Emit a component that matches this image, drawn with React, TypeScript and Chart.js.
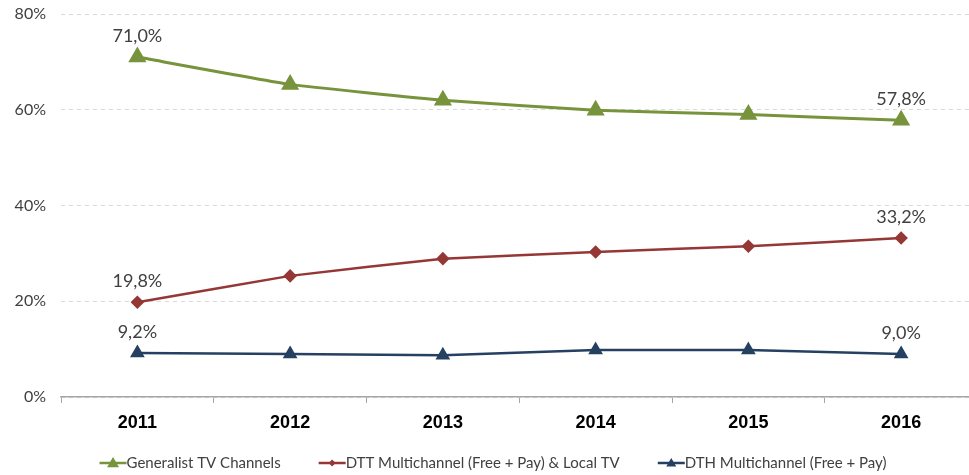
import { useEffect, useRef } from "react";
import { Chart, registerables } from "chart.js";
Chart.register(...registerables);

const years = ["2011", "2012", "2013", "2014", "2015", "2016"];
const generalist = [71.0, 65.3, 62.0, 59.9, 59.0, 57.8];
const dtt = [19.8, 25.3, 28.9, 30.3, 31.5, 33.2];
const dth = [9.2, 9.0, 8.7, 9.8, 9.8, 9.0];
const seriesNames = [
  "Generalist TV Channels",
  "DTT Multichannel (Free + Pay) & Local TV",
  "DTH Multichannel (Free + Pay)",
];
const yMin = 0;
const yMax = 80;
const yStep = 20;

const GREEN = "#77933C";
const RED = "#953735";
const BLUE = "#254061";
const TEXT = "#404040";
const FONT = "Lato, 'Noto Sans', sans-serif";

const fmt = (v: number) => v.toFixed(1).replace(".", ",") + "%";

const endLabels = {
  id: "endLabels",
  afterDatasetsDraw(chart: any) {
    const ctx = chart.ctx;
    ctx.save();
    ctx.font = `18px ${FONT}`;
    ctx.fillStyle = TEXT;
    ctx.textAlign = "center";
    ctx.textBaseline = "middle";
    chart.data.datasets.forEach((ds: any, i: number) => {
      const meta = chart.getDatasetMeta(i);
      const last = ds.data.length - 1;
      [0, last].forEach((idx) => {
        const pt = meta.data[idx];
        ctx.fillText(fmt(ds.data[idx]), pt.x, pt.y - 21);
      });
    });
    ctx.restore();
  },
};

const bottomLegend = {
  id: "bottomLegend",
  afterDraw(chart: any) {
    const ctx = chart.ctx;
    ctx.save();
    ctx.font = `15px ${FONT}`;
    ctx.textBaseline = "middle";
    ctx.textAlign = "left";
    const lineLen = 27;
    const gap = 38;
    const items = chart.data.datasets.map((ds: any) => ({
      ds,
      w: ctx.measureText(ds.label).width,
    }));
    const total =
      items.reduce((s: number, it: any) => s + lineLen + it.w, 0) + gap * (items.length - 1);
    let x = 490 - total / 2 + 3;
    const y = 463;
    items.forEach((it: any) => {
      const ds = it.ds;
      ctx.strokeStyle = ds.borderColor;
      ctx.lineWidth = 2.5;
      ctx.beginPath();
      ctx.moveTo(x, y);
      ctx.lineTo(x + lineLen, y);
      ctx.stroke();
      ctx.fillStyle = ds.borderColor;
      const cx = x + lineLen / 2;
      const r = ds.legendRadius;
      ctx.beginPath();
      if (ds.pointStyle === "triangle") {
        ctx.moveTo(cx, y - r);
        ctx.lineTo(cx + r, y + r * 0.7);
        ctx.lineTo(cx - r, y + r * 0.7);
      } else {
        ctx.moveTo(cx, y - r);
        ctx.lineTo(cx + r, y);
        ctx.lineTo(cx, y + r);
        ctx.lineTo(cx - r, y);
      }
      ctx.closePath();
      ctx.fill();
      ctx.fillStyle = TEXT;
      ctx.fillText(ds.label, x + lineLen, y);
      x += lineLen + it.w + gap;
    });
    ctx.restore();
  },
};

export default function App() {
  const ref = useRef<HTMLCanvasElement>(null);
  useEffect(() => {
    if (!ref.current) return;
    const chart = new Chart(ref.current, {
      type: "line",
      data: {
        labels: years,
        datasets: [
          {
            label: seriesNames[0],
            data: generalist,
            borderColor: GREEN,
            backgroundColor: GREEN,
            borderWidth: 3,
            pointStyle: "triangle",
            pointRadius: 7.5,
            pointHoverRadius: 7.5,
            tension: 0.12,
            legendRadius: 6,
          } as any,
          {
            label: seriesNames[1],
            data: dtt,
            borderColor: RED,
            backgroundColor: RED,
            borderWidth: 2.5,
            pointStyle: "rectRot",
            pointRadius: 5,
            pointHoverRadius: 5,
            tension: 0.05,
            legendRadius: 3.5,
          } as any,
          {
            label: seriesNames[2],
            data: dth,
            borderColor: BLUE,
            backgroundColor: BLUE,
            borderWidth: 2.5,
            pointStyle: "triangle",
            pointRadius: 6,
            pointHoverRadius: 6,
            tension: 0,
            legendRadius: 5,
          } as any,
        ],
      },
      options: {
        animation: false,
        responsive: false,
        layout: { padding: { top: 14, right: 0, bottom: 0, left: 0 } },
        plugins: {
          legend: { display: false },
          tooltip: { enabled: false },
        },
        scales: {
          x: {
            offset: true,
            afterFit(scale: any) {
              scale.height = 78;
              scale.paddingLeft = 0;
              scale.paddingRight = 0;
            },
            grid: {
              display: true,
              offset: true,
              drawOnChartArea: false,
              drawTicks: true,
              tickLength: 6,
              color: "#A6A6A6",
              lineWidth: 1,
            },
            border: { display: true, color: "#A6A6A6", width: 1.5 },
            ticks: {
              color: "#000000",
              font: { family: "'Liberation Sans', Arial, sans-serif", size: 18, weight: "bold" },
              padding: 9,
              maxRotation: 0,
            },
          },
          y: {
            min: yMin,
            max: yMax,
            afterFit(scale: any) {
              scale.width = 61;
              scale.paddingTop = 0;
              scale.paddingBottom = 0;
            },
            grid: {
              color: "#D9D9D9",
              drawTicks: false,
              lineWidth: 1,
            },
            border: { display: false, dash: [4, 4] },
            ticks: {
              stepSize: yStep,
              color: TEXT,
              padding: 15,
              font: { family: FONT, size: 16 },
              callback: (v: any) => v + "%",
            },
          },
        },
      } as any,
      plugins: [endLabels, bottomLegend],
    });
    return () => chart.destroy();
  }, []);
  return (
    <div
      style={{
        position: "absolute",
        left: 0,
        top: 0,
        width: 969,
        height: 475,
        overflow: "hidden",
        background: "#ffffff",
      }}
    >
      <canvas ref={ref} width={988} height={475} style={{ width: 988, height: 475, display: "block" }} />
    </div>
  );
}
